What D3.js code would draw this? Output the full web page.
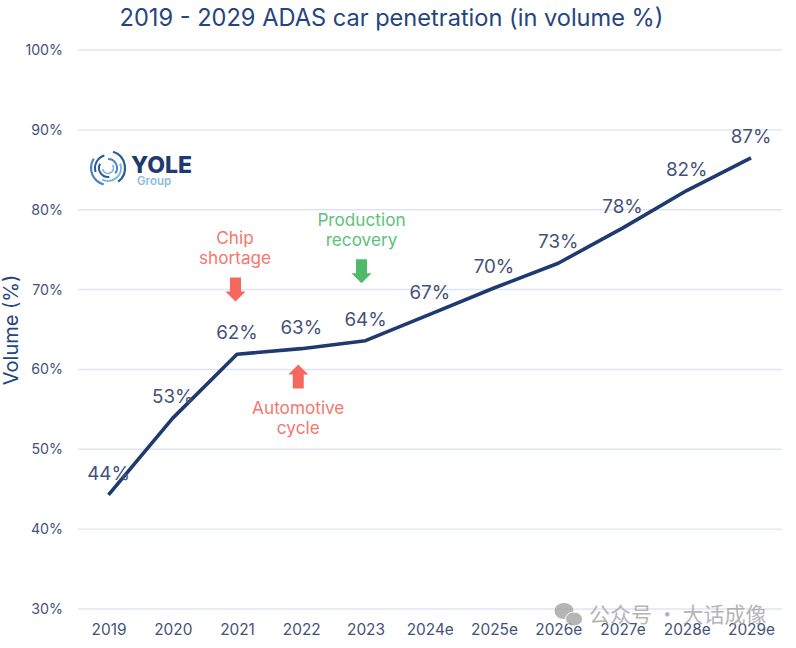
<!DOCTYPE html>
<html><head><meta charset="utf-8">
<script src="https://cdn.jsdelivr.net/npm/d3@7"></script>
<style>html,body{margin:0;padding:0;background:#fff}svg{display:block}text{font-family:"Inter","Open Sans",sans-serif}</style>
</head><body><svg id="c" width="796" height="648"></svg>
<script>
const categories=["2019","2020","2021","2022","2023","2024e","2025e","2026e","2027e","2028e","2029e"];
const values=[44.3,53.9,61.9,62.6,63.6,66.9,70.2,73.3,77.7,82.4,86.5];
const labels=["44%","53%","62%","63%","64%","67%","70%","73%","78%","82%","87%"];
const yTicks=[30,40,50,60,70,80,90,100];
const title="2019 - 2029 ADAS car penetration (in volume %)";
const navy="#1f3a6e",txt="#44527a",red="#f4776e",green="#5cc27a",arrowRed="#f4685f",arrowGreen="#4fbb68";
const svg=d3.select("#c");
const x=d3.scalePoint().domain(categories).range([108.5,751]);
const y=d3.scaleLinear().domain([30,100]).range([609,50]);

svg.append("text").attr("x",391.5).attr("y",26).attr("text-anchor","middle").attr("font-size",23.6).attr("fill","#25457f").text(title);

const ya=svg.append("g").attr("transform","translate(78,0)").call(d3.axisLeft(y).tickValues(yTicks).tickSize(0).tickPadding(15).tickFormat(d=>d+"%"));
ya.select(".domain").remove();
ya.selectAll("text").attr("font-size",14.2).attr("fill",txt).style("font-family","Inter");
svg.append("g").selectAll("line").data(yTicks).join("line")
  .attr("x1",78).attr("x2",782).attr("y1",d=>y(d)).attr("y2",d=>y(d)).attr("stroke","#dde5f5").attr("stroke-width",1.4);

const xa=svg.append("g").attr("transform","translate(0,609)").call(d3.axisBottom(x).tickSize(0).tickPadding(15));
xa.select(".domain").remove();
xa.selectAll("text").attr("font-size",15.4).attr("fill",txt).style("font-family","Inter");

svg.append("text").attr("transform","translate(18,330) rotate(-90)").attr("text-anchor","middle").attr("font-size",20).attr("fill","#25457f").text("Volume (%)");

const line=d3.line().x((d,i)=>x(categories[i])).y(d=>y(d));
svg.append("path").attr("d",line(values)).attr("fill","none").attr("stroke",navy).attr("stroke-width",3.6).attr("stroke-linejoin","round");

svg.append("g").selectAll("text").data(labels).join("text")
  .attr("x",(d,i)=>x(categories[i])).attr("y",(d,i)=>y(values[i])-15)
  .attr("text-anchor","middle").attr("font-size",18.8).attr("fill",txt).text(d=>d);

function note(cat,dx,val,lines,color){
  const t=svg.append("text").attr("text-anchor","middle").attr("font-size",17.2).attr("fill",color);
  lines.forEach((l,i)=>t.append("tspan").attr("x",x(cat)+dx).attr("y",y(val)+i*20).text(l));
}
function arrow(cat,dx,val,dir,color){
  const cx=x(cat)+dx,t=y(val);
  const p=d3.path();
  p.moveTo(cx-5.5,t);p.lineTo(cx+5.5,t);p.lineTo(cx+5.5,t+dir*14);p.lineTo(cx+10,t+dir*14);
  p.lineTo(cx,t+dir*24);p.lineTo(cx-10,t+dir*14);p.lineTo(cx-5.5,t+dir*14);p.closePath();
  svg.append("path").attr("d",p.toString()).attr("fill",color);
}
note("2021",-2,75.7,["Chip","shortage"],red);
arrow("2021",-1.5,71.5,1,arrowRed);
note("2023",-4,77.9,["Production","recovery"],green);
arrow("2023",-4,73.8,1,arrowGreen);
arrow("2022",-3,57.6,-1,arrowRed);
note("2022",-3,54.4,["Automotive","cycle"],red);

// logo
const logo=svg.append("g").attr("transform","translate(108,168)");
const arc=d3.arc();
[[17,.3,2.5,"#2b5c94",2.2],[17,3.4,5.3,"#4a86bd",2.2],[13,1.2,3.6,"#7fb4dc",2],[13,4.4,6,"#2b5c94",2],[9,0,2.2,"#4a86bd",2],[9,3,5.2,"#2b5c94",2],[5.5,1,4.5,"#7fb4dc",1.6]].forEach(r=>{
  logo.append("path").attr("d",arc({innerRadius:r[0]-r[4]/2,outerRadius:r[0]+r[4]/2,startAngle:r[1],endAngle:r[2]})).attr("fill",r[3]);
});
svg.append("text").attr("x",131).attr("y",173).attr("font-size",23).attr("font-weight",800).attr("fill","#1e3a6e").style("font-family","Inter").text("YOLE");
svg.append("text").attr("x",137).attr("y",185).attr("font-size",11.5).attr("font-weight",600).attr("fill","#8dbbe0").text("Group");

// watermark
const wm=svg.append("g").attr("opacity",.8);
wm.append("ellipse").attr("cx",564).attr("cy",611).attr("rx",9.5).attr("ry",8).attr("fill","#a3a3a3");
wm.append("ellipse").attr("cx",574).attr("cy",619).attr("rx",8.5).attr("ry",7).attr("fill","#a3a3a3").attr("stroke","#fff").attr("stroke-width",1);
wm.append("text").attr("x",589).attr("y",622).attr("font-size",21).attr("fill","#a3a3a3").style("font-family","Noto Sans CJK SC").text("公众号 · 大话成像");
</script></body></html>
